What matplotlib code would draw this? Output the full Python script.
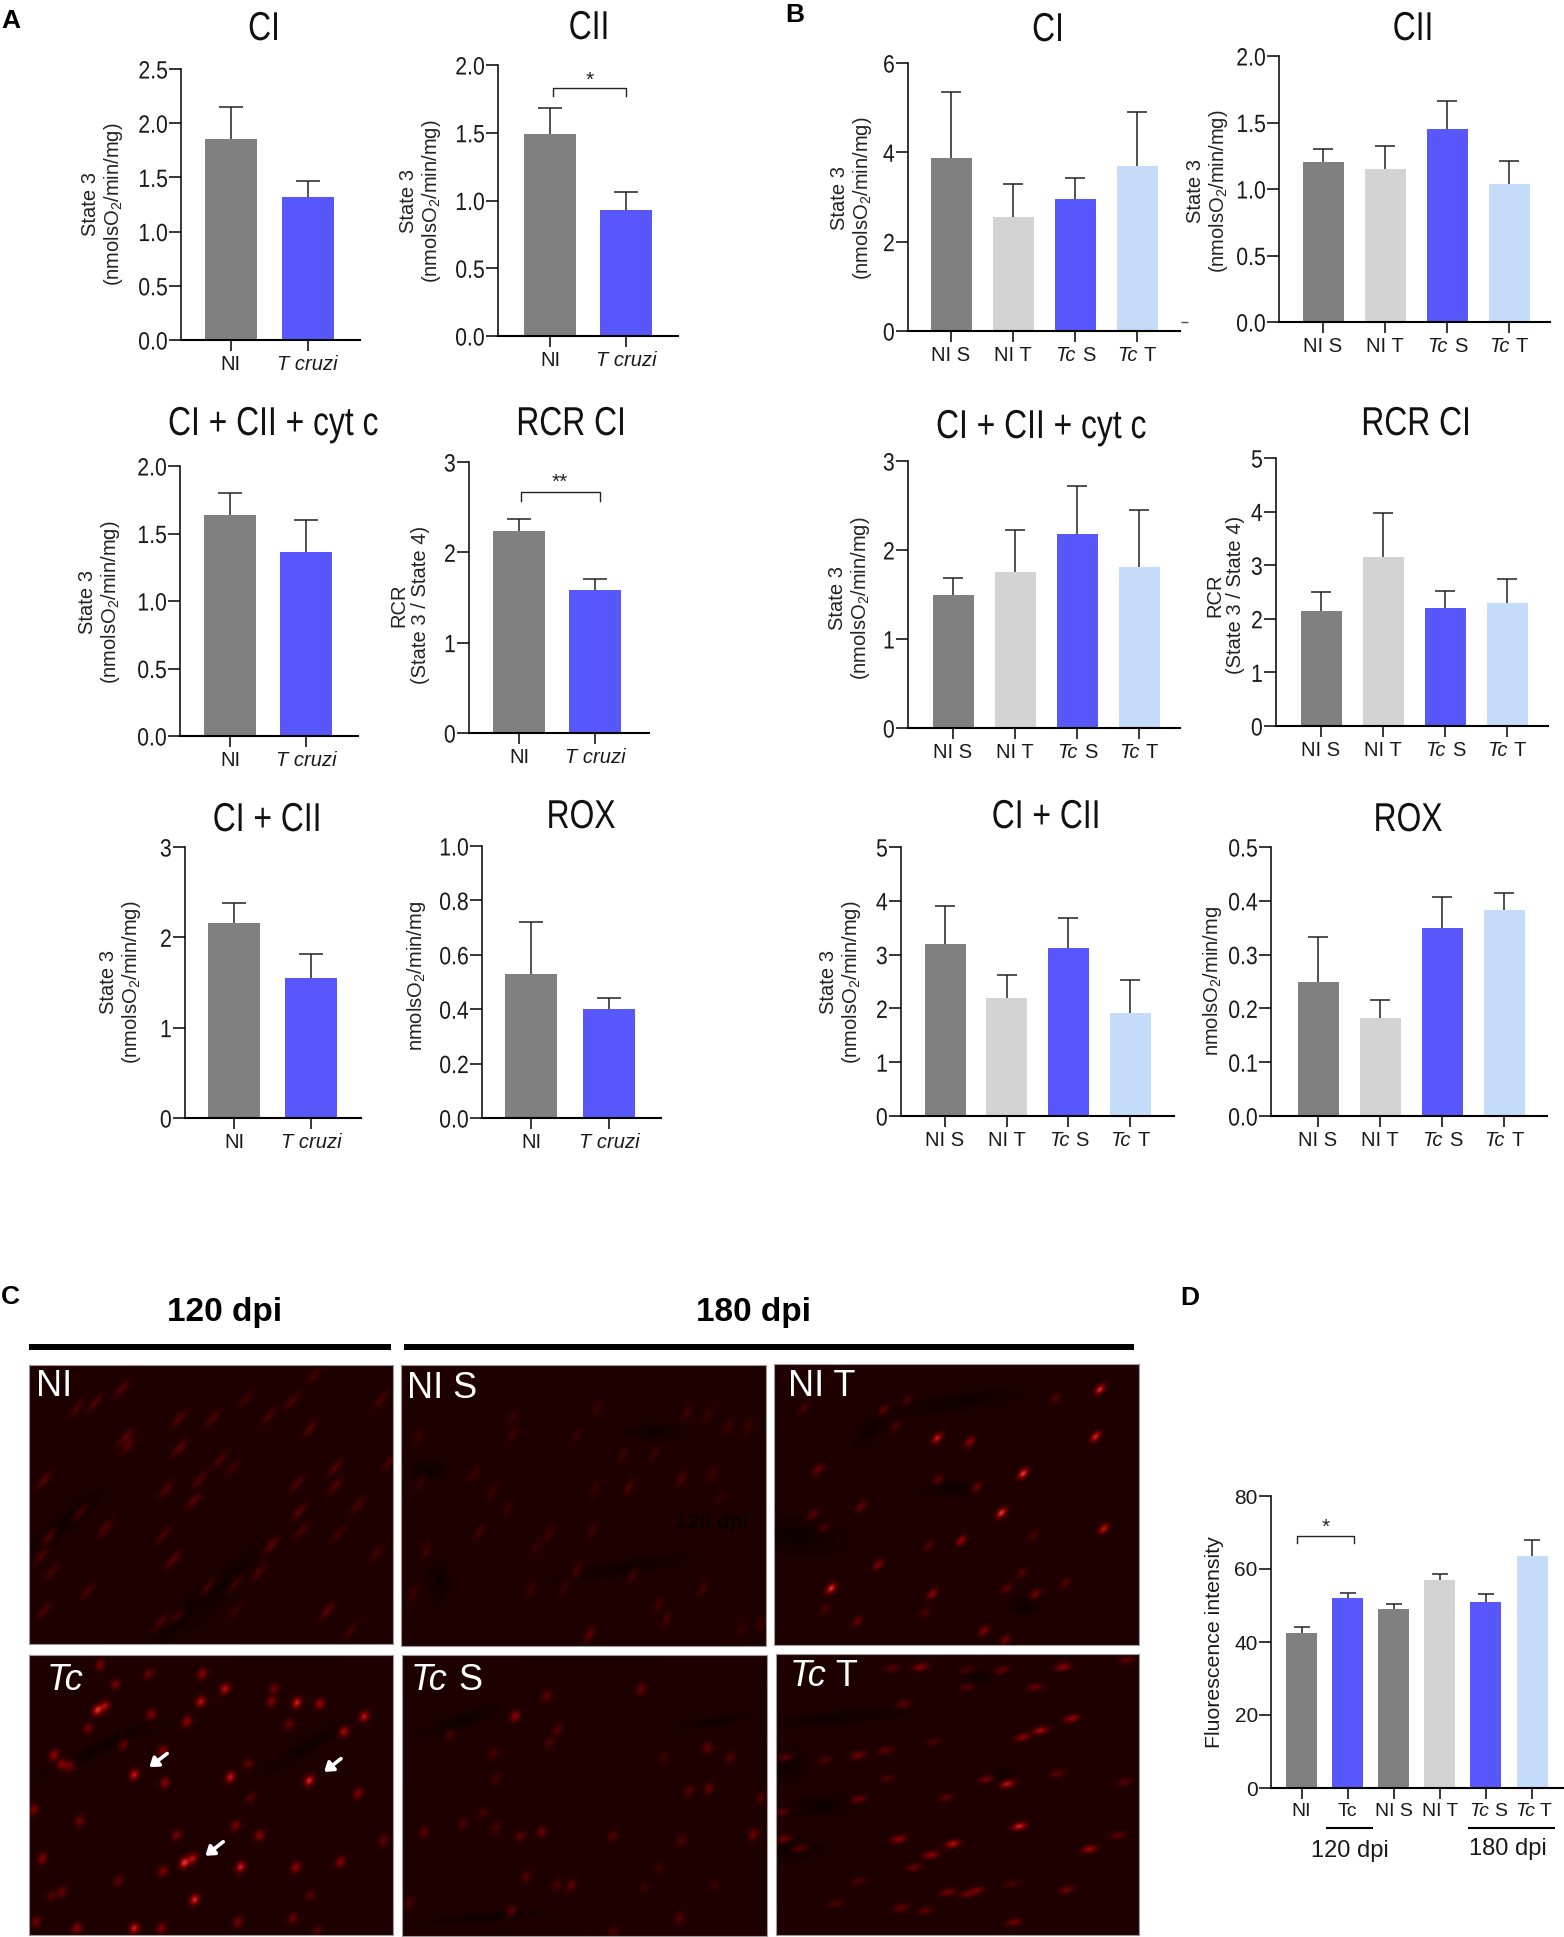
import numpy as np
import matplotlib
matplotlib.use("Agg")
import matplotlib.pyplot as plt
from matplotlib.lines import Line2D
from matplotlib.patches import Rectangle
from matplotlib.patheffects import AbstractPathEffect
from matplotlib.transforms import Affine2D

plt.rcParams['font.family'] = ['Liberation Sans', 'DejaVu Sans']
plt.rcParams['mathtext.default'] = 'regular'

W, H = 1564, 1937

GRAY, LGRAY, BLUE, LBLUE = '#808080', '#d3d3d3', '#5757fb', '#c5dbfa'

# group labels
two_groups = ['NI', 'T cruzi']
four_groups = ['NI S', 'NI T', 'Tc S', 'Tc T']
d_groups = ['NI', 'Tc', 'NI S', 'NI T', 'Tc S', 'Tc T']

# panel A: means and top of the error bars
a_ci = [1.85, 1.32]
a_ci_top = [2.15, 1.47]
a_cii = [1.49, 0.93]
a_cii_top = [1.68, 1.06]
a_cyt = [1.64, 1.36]
a_cyt_top = [1.80, 1.60]
a_rcr = [2.24, 1.58]
a_rcr_top = [2.37, 1.71]
a_both = [2.16, 1.55]
a_both_top = [2.38, 1.82]
a_rox = [0.53, 0.40]
a_rox_top = [0.72, 0.44]

# panel B
b_ci = [3.87, 2.55, 2.95, 3.70]
b_ci_top = [5.35, 3.30, 3.43, 4.90]
b_cii = [1.20, 1.15, 1.45, 1.04]
b_cii_top = [1.30, 1.32, 1.66, 1.21]
b_cyt = [1.50, 1.75, 2.18, 1.81]
b_cyt_top = [1.69, 2.23, 2.72, 2.45]
b_rcr = [2.15, 3.15, 2.20, 2.30]
b_rcr_top = [2.50, 3.98, 2.52, 2.75]
b_both = [3.20, 2.20, 3.13, 1.92]
b_both_top = [3.90, 2.63, 3.68, 2.52]
b_rox = [0.25, 0.183, 0.35, 0.383]
b_rox_top = [0.332, 0.215, 0.407, 0.415]

# panel D
d_vals = [42.5, 52, 49, 57, 51, 63.5]
d_top = [44, 53.5, 50.3, 58.6, 53.2, 68]

# micrograph nuclei (x, y, brightness)
ni_blobs = [(612,245,40),(238,275,60),(185,308,60),(150,320,50),(480,300,40),(570,305,50),(745,300,50),(350,345,60),
            (415,345,50),(525,340,50),(605,370,60),(245,390,70),(250,410,60),(350,415,70),(430,442,50),(455,462,40),
            (655,462,60),(580,500,60),(85,492,60),(390,490,60),(325,512,60),(378,540,70),(655,505,60),(760,450,50),
            (155,568,50),(585,565,60),(700,550,50),(205,605,60),(320,620,50),(95,625,70),(530,645,70),(590,610,50),
            (660,620,40),(80,670,50),(338,680,70),(735,665,40),(100,708,40),(505,710,50),(405,745,50),(458,737,50),
            (170,755,50),(640,800,70),(85,800,50),(315,825,50),(345,815,50),(685,848,40),(460,800,30)]
tc_blobs = [(395,950,120),(195,930,100),(225,975,90),(290,950,80),(440,985,170),(535,985,90),(190,1035,210),(205,1025,150),
            (295,1045,110),(392,1015,170),(365,1062,130),(580,1018,190),(625,1020,140),(530,1015,110),(712,1050,170),
            (565,1068,80),(672,1085,150),(172,1078,100),(240,1115,80),(105,1140,130),(120,1162,130),(135,1165,100),
            (318,1130,110),(262,1186,180),(322,1205,120),(450,1192,180),(485,1160,70),(604,1200,200),(700,1230,110),
            (490,1240,60),(65,1268,110),(155,1295,90),(460,1305,100),(345,1327,100),(507,1328,120),(750,1340,80),
            (82,1382,110),(360,1392,220),(376,1382,160),(470,1402,190),(578,1403,130),(318,1412,110),(665,1390,120),
            (230,1435,70),(120,1460,80),(380,1478,200),(605,1468,60),(100,1470,60),(465,1530,100),(262,1545,190),
            (150,1545,120),(315,1545,110),(70,1530,90),(572,1522,80),(620,1550,60)]
nis_blobs = [(1005,343,30),(1170,325,30),(1345,335,40),(1385,340,30),(1425,368,35),(1465,367,30),(1130,388,25),(820,390,30),
             (1005,385,35),(1282,430,30),(1220,435,30),(1232,510,50),(1335,490,50),(1395,478,35),(930,478,35),(965,520,35),
             (825,497,30),(1165,515,30),(1410,535,25),(995,560,30),(940,615,40),(1075,620,40),(1160,610,35),(835,660,40),
             (1050,650,25),(1130,705,50),(1240,715,40),(1375,750,40),(1040,750,35),(810,760,30),(1105,745,30),(1290,785,40),
             (1305,820,45),(1155,855,70),(1490,830,25),(1450,845,25)]
tcs_blobs = [(1070,1000,70),(1255,985,80),(1008,1048,120),(1090,1080,60),(880,1090,50),(965,1135,50),(1075,1110,50),
             (1385,1122,70),(1430,1145,60),(1300,1145,30),(970,1195,40),(1350,1222,60),(1388,1218,70),(1490,1240,50),
             (945,1275,40),(905,1300,50),(830,1320,70),(970,1310,50),(1060,1320,80),(1018,1330,70),(1200,1328,60),
             (1335,1340,50),(1475,1325,90),(1090,1445,50),(1118,1445,70),(1030,1425,60),(1290,1405,30),(800,1485,50),
             (1000,1505,70),(1330,1522,60),(1200,1555,50),(1260,1450,30),(1400,1445,30)]
nit_blobs = [(988,80,200),(855,103,60),(410,110,50),(340,135,70),(100,130,50),(375,180,50),(500,212,180),(597,222,120),
             (975,208,190),(143,297,90),(758,308,220),(503,325,70),(620,345,90),(693,415,220),(272,397,80),(128,418,70),
             (160,455,60),(1000,458,170),(572,490,130),(475,505,60),(790,475,50),(323,556,110),(182,620,210),(486,635,120),
             (755,578,60),(795,635,90),(708,620,70),(465,685,50),(260,710,80),(640,735,110),(705,760,90),(165,677,50),(885,605,60)]
tct_blobs = [(450,832,110),(365,835,60),(590,840,50),(695,840,70),(878,832,120),(1068,813,70),(795,887,80),(590,887,60),
             (400,933,70),(905,972,130),(810,1005,150),(757,1023,120),(45,1078,80),(263,1072,90),(345,1058,70),(165,1085,50),
             (490,1035,50),(650,1137,100),(710,1150,170),(352,1135,50),(860,1122,70),(1062,1145,60),(527,1187,70),(265,1192,90),
             (35,1226,70),(747,1265,190),(40,1300,90),(385,1300,130),(547,1313,160),(88,1325,80),(482,1343,130),(958,1327,140),
             (1042,1290,70),(430,1377,80),(265,1415,50),(533,1445,100),(620,1440,90),(590,1450,80),(888,1438,90),(725,1422,50),
             (465,1495,70),(392,1487,80),(197,1475,50),(730,1526,90)]
# dark streaks in the tissue (x, y, long, short, angle)
ni_dark = [(440,740,60,14,50),(120,600,60,14,40),(350,820,60,12,50)]
nis_dark = [(860,730,14,30,0),(1220,700,70,12,10),(840,470,25,14,0),(1280,380,30,14,0),(960,1500,30,8,0)]
tc_dark = [(200,1120,70,10,25),(600,1120,60,10,30)]
tcs_dark = [(900,1060,50,12,20),(1400,1060,40,8,10),(950,1520,60,8,5)]
nit_dark = [(560,115,110,16,8),(300,190,40,14,40),(80,480,80,30,-5),(550,350,50,14,0),(760,670,25,16,0)]
tct_dark = [(200,970,130,12,5),(50,1100,40,30,0),(150,1210,60,18,5),(60,1330,60,18,5),(690,1130,30,14,30),(620,860,25,14,0)]


class Squeeze(AbstractPathEffect):
    """Draws a text narrower, the source figure has condensed lettering."""
    def __init__(self, text, sx):
        super().__init__()
        self.text = text
        self.sx = sx

    def draw_path(self, renderer, gc, tpath, affine, rgbFace=None):
        box = self.text.get_window_extent(self.text.get_figure().canvas.get_renderer())
        ha = self.text.get_ha()
        cx = box.x1 if ha == 'right' else box.x0 if ha == 'left' else (box.x0 + box.x1) / 2
        squeezed = affine + Affine2D().translate(-cx, 0).scale(self.sx, 1).translate(cx, 0)
        renderer.draw_path(gc, tpath, squeezed, rgbFace)


def fx(px):
    return px / W


def fy(px):
    return 1 - px / H


def ftext(x, y, s, squeeze=None, **kw):
    kw.setdefault('ha', 'center')
    kw.setdefault('va', 'center')
    t = fig.text(fx(x), fy(y), s, **kw)
    if squeeze:
        t.set_path_effects([Squeeze(t, squeeze)])
    return t


def fline(x0, x1, y, lw, color='black'):
    fig.add_artist(Line2D([fx(x0), fx(x1)], [fy(y), fy(y)], lw=lw, color=color, solid_capstyle='butt'))


def bar_panel(groups, vals, tops, colors, yticks, fmt, axis_x, x_end, y0, y_top, c0, step, bw,
              tick_size=18, x_size=14.5, squeeze=0.85, split=(1, 7), cap=8.5):
    ax = fig.add_axes([fx(axis_x), fy(y0), (x_end - axis_x) / W, (y0 - y_top) / H])
    xs = np.arange(len(groups))
    ax.set_xlim((axis_x - c0) / step, (x_end - c0) / step)
    ax.set_ylim(yticks[0], yticks[-1])
    lower = [0] * len(vals)
    upper = [t - v for t, v in zip(tops, vals)]
    eb = ax.errorbar(xs, vals, yerr=[lower, upper], fmt='none', ecolor='#222222', elinewidth=1.1,
                     capsize=cap, capthick=1.1, zorder=1, clip_on=False)
    eb[1][0].set_visible(False)  # upper bars only
    ax.bar(xs, vals, width=bw / step, color=colors, zorder=2)
    for s in ('top', 'right'):
        ax.spines[s].set_visible(False)
    ax.spines['left'].set_linewidth(1.1)
    ax.spines['bottom'].set_linewidth(1.5)
    ax.spines['bottom'].set_zorder(3)
    ax.set_yticks(yticks)
    ylabs = ax.set_yticklabels([fmt % t for t in yticks], size=tick_size, color='#1a1a1a')
    if squeeze:
        for t in ylabs:
            t.set_path_effects([Squeeze(t, squeeze)])
    ax.tick_params(axis='y', length=8.5, width=1.1, pad=1)
    ax.tick_params(axis='x', length=8, width=1.1, pad=3)
    ax.set_xticks(xs)
    # tick labels, with Tc in italics as its own piece
    labels = []
    for i, g in enumerate(groups):
        if g.startswith('Tc '):
            labels.append('')
            base = dict(xy=(i, 0), xycoords=('data', 'axes fraction'), textcoords='offset pixels', va='top',
                        size=x_size, color='#1a1a1a')
            ax.annotate('Tc', xytext=(split[0], -15), ha='right', style='italic', **base)
            ax.annotate(g[3:], xytext=(split[1], -15), ha='left', **base)
        else:
            labels.append(g)
    ax.set_xticklabels(labels, size=x_size, color='#1a1a1a')
    for lab, g in zip(ax.get_xticklabels(), groups):
        if g == 'T cruzi':
            lab.set_style('italic')
    return ax


def bracket(ax, x0, x1, y, drop, star, star_y):
    ax.plot([x0, x0, x1, x1], [y - drop, y, y, y - drop], color='#222222', lw=1.0, clip_on=False, zorder=4)
    ax.text((x0 + x1) / 2, star_y, star, ha='center', va='center', size=15, color='#222222')


def micrograph(x0, x1, y0, y1, blobs, darks, zx, zy, sl, ss, ang):
    # zx, zy: where the panel edges sit in the crop the coordinates came from
    w, h = int(x1 - x0), int(y1 - y0)
    yy, xx = np.mgrid[0:h, 0:w]
    sx, sy = w / (zx[1] - zx[0]), h / (zy[1] - zy[0])
    glow = np.zeros((h, w))

    def add(px, py, a, lng, sht, deg):
        t = np.deg2rad(deg)
        dx, dy = xx - px, yy - py
        u = dx * np.cos(t) - dy * np.sin(t)
        v = dx * np.sin(t) + dy * np.cos(t)
        return a * np.exp(-0.5 * ((u / lng) ** 2 + (v / sht) ** 2))

    for x, y, a in blobs:
        glow += add((x - zx[0]) * sx, (y - zy[0]) * sy, a * 0.85, sl, ss, ang)
    dark = np.zeros((h, w))
    for x, y, lng, sht, deg in darks:
        dark += add((x - zx[0]) * sx, (y - zy[0]) * sy, 16, lng * sx, sht * sy, deg)
    r = np.clip(31 - dark + glow, 4, 255)
    gb = np.clip((glow - 110) * 0.7, 0, 200)
    img = np.dstack([r, gb, gb]).astype(np.uint8)
    ax = fig.add_axes([fx(x0), fy(y1), (x1 - x0) / W, (y1 - y0) / H])
    ax.imshow(img, aspect='auto', interpolation='bilinear')
    ax.set_xticks([])
    ax.set_yticks([])
    for s in ax.spines.values():
        s.set_color('#9a9a9a')
        s.set_linewidth(0.8)
    return ax, sx, sy


fig = plt.figure(figsize=(W / 100, H / 100), dpi=100, facecolor='white')

two_colors = [GRAY, BLUE]
four_colors = [GRAY, LGRAY, BLUE, LBLUE]
d_colors = [GRAY, BLUE, GRAY, LGRAY, BLUE, LBLUE]

# ---- panel A ----
bar_panel(two_groups, a_ci, a_ci_top, two_colors, [0, .5, 1, 1.5, 2, 2.5], '%.1f', 181, 360, 340, 69, 230.5, 77, 52)
ax_cii = bar_panel(two_groups, a_cii, a_cii_top, two_colors, [0, .5, 1, 1.5, 2], '%.1f', 498, 678, 336, 65, 550, 76, 52)
bracket(ax_cii, 0.04, 1.0, 1.83, 0.06, '*', 1.89)
bar_panel(two_groups, a_cyt, a_cyt_top, two_colors, [0, .5, 1, 1.5, 2], '%.1f', 180, 358, 736, 466, 230, 76, 52)
ax_rcr = bar_panel(two_groups, a_rcr, a_rcr_top, two_colors, [0, 1, 2, 3], '%d', 469, 649, 733, 462, 519, 76, 52)
bracket(ax_rcr, 0.02, 1.06, 2.67, 0.1, '**', 2.77)
bar_panel(two_groups, a_both, a_both_top, two_colors, [0, 1, 2, 3], '%d', 185, 361, 1118, 847, 234, 77, 52)
bar_panel(two_groups, a_rox, a_rox_top, two_colors, [0, .2, .4, .6, .8, 1], '%.1f', 482, 661, 1118, 846, 531, 78, 52)

# ---- panel B ----
bar_panel(four_groups, b_ci, b_ci_top, four_colors, [0, 2, 4, 6], '%d', 908, 1180, 331, 63, 951, 62, 41, cap=7)
bar_panel(four_groups, b_cii, b_cii_top, four_colors, [0, .5, 1, 1.5, 2], '%.1f', 1279, 1550, 322, 56, 1323, 62, 41, cap=7)
bar_panel(four_groups, b_cyt, b_cyt_top, four_colors, [0, 1, 2, 3], '%d', 908, 1180, 728, 461, 953, 62, 41, cap=7)
bar_panel(four_groups, b_rcr, b_rcr_top, four_colors, [0, 1, 2, 3, 4, 5], '%d', 1276, 1548, 726, 458, 1321, 62, 41, cap=7)
bar_panel(four_groups, b_both, b_both_top, four_colors, [0, 1, 2, 3, 4, 5], '%d', 901, 1174, 1116, 847, 945, 61.7, 41, cap=7)
bar_panel(four_groups, b_rox, b_rox_top, four_colors, [0, .1, .2, .3, .4, .5], '%.1f', 1271, 1547, 1116, 847, 1318, 62, 41, cap=7)
fline(1181, 1188, 322, 1.0, '#555555')

# ---- panel D ----
ax_d = bar_panel(d_groups, d_vals, d_top, d_colors, [0, 20, 40, 60, 80], '%d', 1271, 1564, 1788, 1496, 1301.5, 46.1, 31,
                 tick_size=15, x_size=14, squeeze=None, split=(3, 8), cap=5.5)
bracket(ax_d, -0.1, 1.14, 69, 1.8, '*', 71.5)
fline(1326, 1373, 1828, 1.5)
fline(1468, 1555, 1828, 1.5)
ftext(1350, 1851, '120 dpi', size=17, color='#1a1a1a')
ftext(1508, 1849, '180 dpi', size=17, color='#1a1a1a')
ftext(1215, 1642, 'Fluorescence intensity', rotation=90, size=15.3, color='#1a1a1a')

# ---- titles ----
for x, y, s in [(264, 29, 'CI'), (589, 28, 'CII'), (273, 424, 'CI + CII + cyt c'), (571, 424, 'RCR CI'),
                (267, 820, 'CI + CII'), (581, 817, 'ROX'), (1048, 30, 'CI'), (1413, 29, 'CII'),
                (1041, 427, 'CI + CII + cyt c'), (1416, 424, 'RCR CI'), (1046, 817, 'CI + CII'), (1408, 820, 'ROX')]:
    ftext(x, y, s, squeeze=0.79, size=29, color='#111111')

# ---- y axis titles ----
state3 = 'State 3\n(nmolsO$_2$/min/mg)'
rcr_label = 'RCR\n(State 3 / State 4)'
rox_label = 'nmolsO$_2$/min/mg'
ylab_kw = dict(rotation=90, size=14.5, color='#222222', linespacing=1.15, ha='center', multialignment='center')
for x, y, s in [(103, 204, state3), (421, 201, state3), (100, 602, state3), (410, 605, rcr_label), (121, 982, state3),
                (416, 976, rox_label), (852, 198, state3), (1208, 191, state3), (850, 598, state3), (1225, 595, rcr_label),
                (841, 982, state3), (1213, 981, rox_label)]:
    ftext(x, y, s, **ylab_kw)

# ---- panel letters ----
for x, y, s in [(11, 21, 'A'), (795, 15, 'B'), (10, 1297, 'C'), (1190, 1298, 'D')]:
    ftext(x, y, s, size=19, weight='bold', color='black')

# ---- panel C ----
ftext(225, 1312, '120 dpi', size=24, weight='bold')
ftext(754, 1312, '180 dpi', size=24, weight='bold')
fig.add_artist(Rectangle((fx(29), fy(1350)), 362 / W, 6 / H, color='black', lw=0))
fig.add_artist(Rectangle((fx(404), fy(1350)), 730 / W, 6 / H, color='black', lw=0))

micrograph(29, 393, 1365, 1644, ni_blobs, ni_dark, (57, 771), (220, 880), 7, 2.4, 50)
micrograph(401, 766, 1365, 1646, nis_blobs, nis_dark, (787, 1501), (224, 884), 5.5, 2.6, 65)
micrograph(774, 1139, 1364, 1645, nit_blobs, nit_dark, (12, 1107), (12, 775), 4.2, 2.5, 45)
ax_tc, tsx, tsy = micrograph(29, 393, 1655, 1935, tc_blobs, tc_dark, (57, 771), (905, 1562), 3.8, 3.0, 60)
micrograph(402, 767, 1655, 1936, tcs_blobs, tcs_dark, (787, 1503), (905, 1565), 4, 3, 60)
micrograph(776, 1139, 1654, 1935, tct_blobs, tct_dark, (18, 1108), (798, 1562), 5, 2.4, 12)

# white arrows on the Tc panel
for (x0, y0), (x1, y1) in [((327, 1135), (292, 1167)), ((668, 1147), (635, 1178)), ((437, 1342), (402, 1375))]:
    ax_tc.annotate('', xy=((x1 - 57) * tsx, (y1 - 905) * tsy), xytext=((x0 - 57) * tsx, (y0 - 905) * tsy),
                   arrowprops=dict(arrowstyle='-|>,head_width=0.35,head_length=0.5', color='white', lw=2.6,
                                   shrinkA=0, shrinkB=0))

img_kw = dict(size=26, color='white', ha='left', zorder=10)
ftext(36, 1387, 'NI', **img_kw)
ftext(407, 1389, 'NI S', **img_kw)
ftext(788, 1386, 'NI T', **img_kw)
ftext(47, 1681, 'Tc', style='italic', **img_kw)
ftext(411, 1681, 'Tc', style='italic', **img_kw)
ftext(458, 1681, 'S', **img_kw)
ftext(790, 1676, 'Tc', style='italic', **img_kw)
ftext(835, 1676, 'T', **img_kw)
ftext(712, 1523, '120 dpi', size=15, weight='bold', color='black', alpha=0.65, zorder=10)

fig.savefig('out.png', dpi=100)
